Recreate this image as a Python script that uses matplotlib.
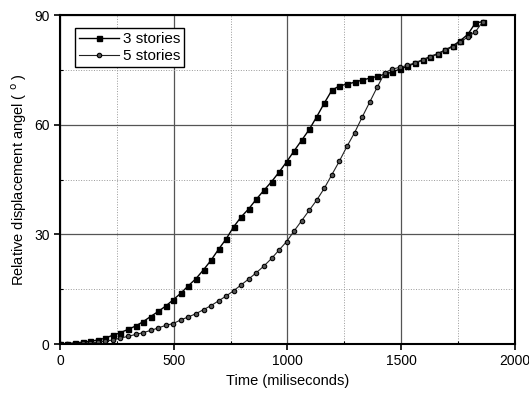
import numpy as np
import matplotlib
matplotlib.use('Agg')
import matplotlib.pyplot as plt
from matplotlib.ticker import MultipleLocator

plt.rcParams['font.family'] = ['Liberation Sans', 'DejaVu Sans']

# time of each frame (ms)
t = [0, 33, 66, 100, 133, 166, 199, 232, 266, 299, 332, 365, 398, 432, 465,
     498, 531, 564, 598, 631, 664, 697, 730, 764, 797, 830, 863, 896, 930,
     963, 996, 1029, 1062, 1096, 1129, 1162, 1195, 1228, 1262, 1295, 1328,
     1361, 1394, 1428, 1461, 1494, 1527, 1560, 1594, 1627, 1660, 1693, 1726,
     1760, 1793, 1826, 1859]

# relative displacement angle (deg)
three = [0, 0.1, 0.3, 0.5, 0.7, 1.1, 1.6, 2.4, 3.1, 4.0, 4.9, 6.1, 7.5, 8.9,
         10.4, 12.1, 13.9, 15.9, 17.9, 20.3, 22.9, 25.9, 28.7, 32.1, 34.8,
         37.0, 39.6, 42.0, 44.4, 47.0, 49.8, 52.8, 55.7, 58.7, 62.2, 65.9,
         69.4, 70.6, 71.1, 71.6, 72.2, 72.7, 73.2, 73.8, 74.4, 75.2, 76.0,
         76.8, 77.7, 78.6, 79.4, 80.4, 81.5, 83.0, 84.7, 87.8, 88.2]
five = [0, 0.05, 0.1, 0.2, 0.3, 0.5, 0.8, 1.1, 1.6, 2.1, 2.6, 3.1, 3.7, 4.4,
        5.1, 5.6, 6.6, 7.4, 8.3, 9.4, 10.5, 11.8, 13.1, 14.6, 16.2, 17.8,
        19.5, 21.3, 23.4, 25.7, 28.0, 30.9, 33.7, 36.6, 39.4, 42.6, 46.3,
        50.0, 54.1, 57.8, 62.0, 66.1, 70.2, 74.2, 75.2, 75.7, 76.2, 76.9,
        77.7, 78.5, 79.3, 80.3, 81.3, 82.6, 84.0, 85.4, 88.2]

fig = plt.figure(figsize=(5.29, 3.94), dpi=100)
ax = fig.add_axes([0.1134, 0.1269, 0.86, 0.835])

ax.plot(t, three, '-', color='black', lw=1.0, marker='s', ms=3.6,
        mfc='black', mec='black', label='3 stories')
ax.plot(t, five, '-', color='#222222', lw=0.8, marker='o', ms=3.2,
        mfc='#555555', mec='black', mew=0.8, label='5 stories')

ax.set_xlim(0, 2000)
ax.set_ylim(0, 90)
ax.xaxis.set_major_locator(MultipleLocator(500))
ax.xaxis.set_minor_locator(MultipleLocator(250))
ax.yaxis.set_major_locator(MultipleLocator(30))
ax.yaxis.set_minor_locator(MultipleLocator(15))

ax.grid(which='major', color='#555555', lw=0.9, ls='-')
ax.grid(which='minor', color='#999999', lw=0.7, ls=':')
ax.set_axisbelow(True)

for s in ax.spines.values():
    s.set_linewidth(1.5)
ax.tick_params(which='major', direction='out', length=4, width=1.2, labelsize=10)
ax.tick_params(which='minor', direction='in', length=2, width=0.8)

ax.set_xlabel('Time (miliseconds)', fontsize=10.5)
ax.set_ylabel('Relative displacement angel ( $^{\\mathrm{o}}$ )', fontsize=10.5)

leg = ax.legend(loc='upper left', bbox_to_anchor=(0.033, 0.96), fontsize=11,
                fancybox=False, framealpha=1, edgecolor='black',
                borderpad=0.25, labelspacing=0.2, handlelength=2.6,
                handletextpad=0.3, borderaxespad=0)
leg.get_frame().set_linewidth(1.0)

fig.savefig('out.png', dpi=100)
